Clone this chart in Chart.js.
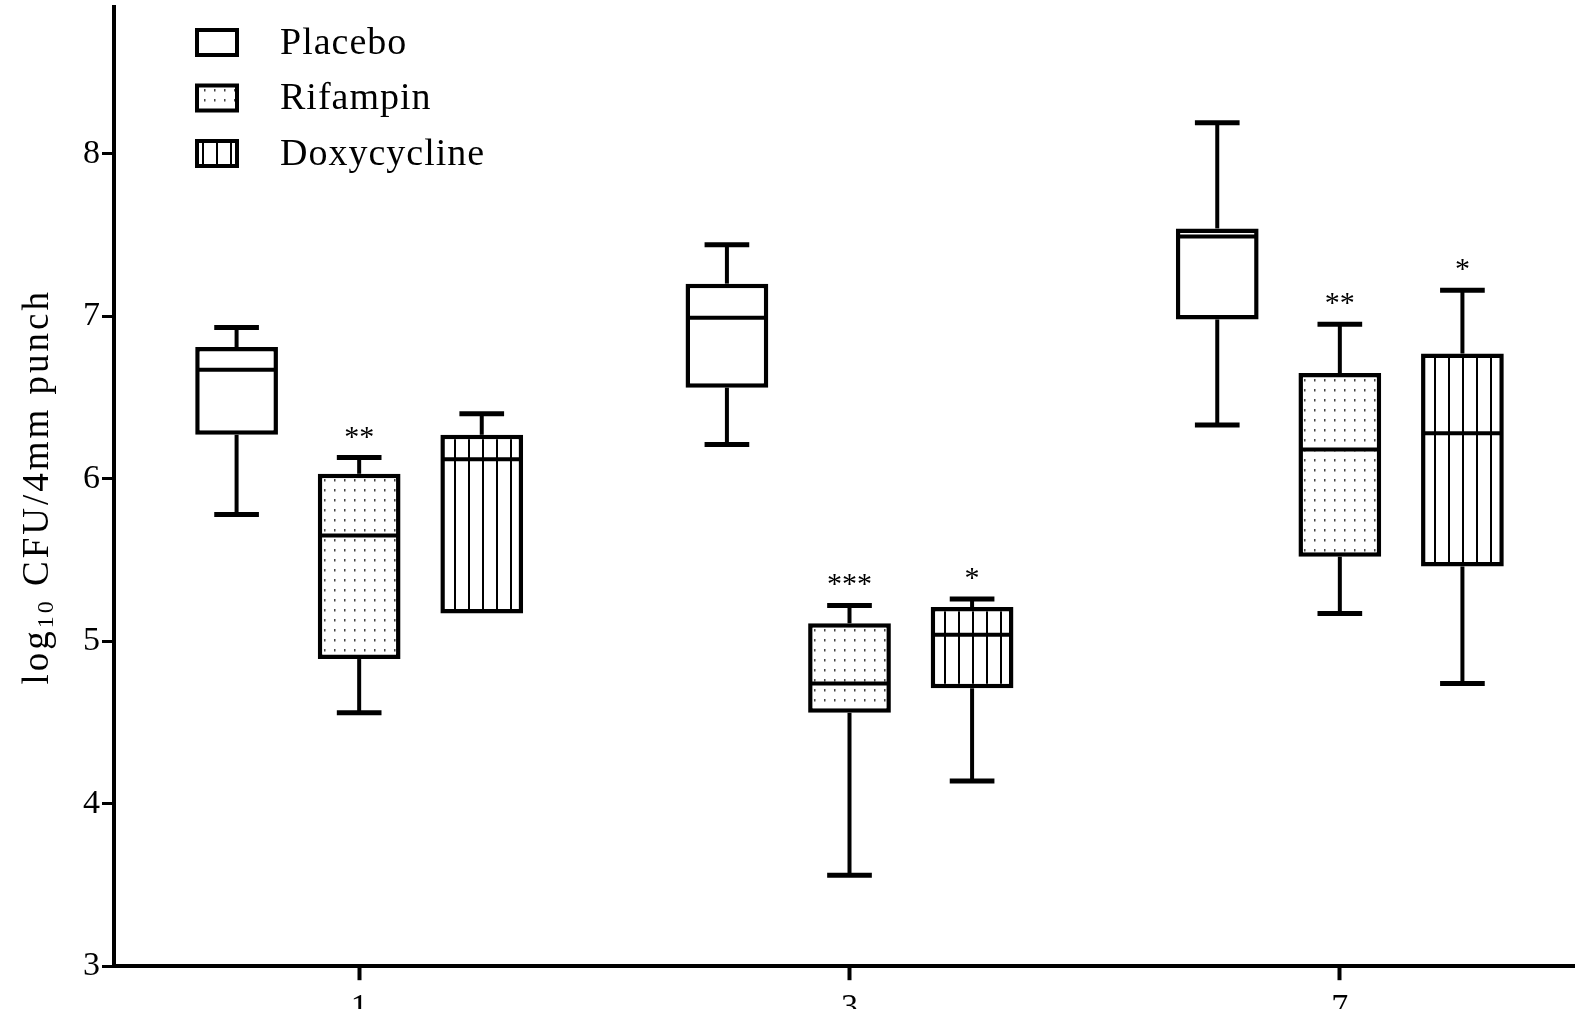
<!DOCTYPE html>
<html>
<head>
<meta charset="utf-8">
<script src="https://cdn.jsdelivr.net/npm/chart.js@4.4.0/dist/chart.umd.min.js"></script>
<style>
html, body { margin: 0; padding: 0; overflow: hidden; background: #fff; }
#wrap { position: absolute; left: 0; top: -15px; width: 1590px; height: 1050px; }
</style>
</head>
<body>
<div id="wrap"><canvas id="Chart"></canvas></div>
<script>
//days on the x axis
var days = ['1', '3', '7'];
var yTicks = [3, 4, 5, 6, 7, 8];
//five number summary for each treatment, one value per day
var placeboMin = [5.78, 6.21, 6.33];
var placeboQ1 = [6.27, 6.56, 6.98];
var placeboMed = [6.67, 6.99, 7.49];
var placeboQ3 = [6.81, 7.20, 7.54];
var placeboMax = [6.93, 7.44, 8.19];
var placeboStars = ['', '', ''];

var rifampinMin = [4.56, 3.56, 5.17];
var rifampinQ1 = [4.89, 4.56, 5.52];
var rifampinMed = [5.65, 4.74, 6.18];
var rifampinQ3 = [6.03, 5.11, 6.65];
var rifampinMax = [6.13, 5.22, 6.95];
var rifampinStars = ['**', '***', '**'];

var doxyMin = [5.17, 4.14, 4.74];
var doxyQ1 = [5.17, 4.71, 5.46];
var doxyMed = [6.12, 5.04, 6.28];
var doxyQ3 = [6.27, 5.21, 6.77];
var doxyMax = [6.40, 5.26, 7.16];
var doxyStars = ['', '*', '*'];

var serif = "'Liberation Serif', 'Times New Roman', serif";
var ctx = document.getElementById('Chart').getContext('2d');

//fill patterns: dots for rifampin and vertical stripes for doxycycline
function dotPattern() {
    var c = document.createElement('canvas');
    c.width = 10; c.height = 10;
    var g = c.getContext('2d');
    g.fillStyle = '#fff';
    g.fillRect(0, 0, 10, 10);
    g.fillStyle = '#444';
    g.fillRect(4, 4, 1.5, 2.5);
    return ctx.createPattern(c, 'repeat');
}
function stripePattern() {
    var c = document.createElement('canvas');
    c.width = 14; c.height = 4;
    var g = c.getContext('2d');
    g.fillStyle = '#fff';
    g.fillRect(0, 0, 14, 4);
    g.fillStyle = '#000';
    g.fillRect(6, 0, 2, 4);
    return ctx.createPattern(c, 'repeat');
}

function boxData(q1, q3) {
    return q1.map(function (v, i) { return [v, q3[i]]; });
}

var datasets = [{
    label: 'Placebo',
    data: boxData(placeboQ1, placeboQ3),
    stats: { min: placeboMin, med: placeboMed, max: placeboMax, stars: placeboStars },
    backgroundColor: '#fff'
}, {
    label: 'Rifampin',
    data: boxData(rifampinQ1, rifampinQ3),
    stats: { min: rifampinMin, med: rifampinMed, max: rifampinMax, stars: rifampinStars },
    backgroundColor: dotPattern()
}, {
    label: 'Doxycycline',
    data: boxData(doxyQ1, doxyQ3),
    stats: { min: doxyMin, med: doxyMed, max: doxyMax, stars: doxyStars },
    backgroundColor: stripePattern()
}];
datasets.forEach(function (d) {
    d.borderColor = '#000';
    d.borderWidth = 4.5;
    d.borderSkipped = false;
    d.categoryPercentage = 0.75;
    d.barPercentage = 0.675;
});

//draws medians, whiskers, caps and the significance stars on top of the floating bars
var boxPlugin = {
    id: 'boxes',
    afterDatasetsDraw: function (chart) {
        var c = chart.ctx;
        var y = chart.scales.y;
        c.save();
        c.strokeStyle = '#000';
        c.fillStyle = '#000';
        chart.data.datasets.forEach(function (ds, di) {
            var meta = chart.getDatasetMeta(di);
            meta.data.forEach(function (bar, i) {
                var half = bar.width / 2;
                var cap = bar.width * 0.27;
                var top = y.getPixelForValue(ds.data[i][1]);
                var bottom = y.getPixelForValue(ds.data[i][0]);
                var pMax = y.getPixelForValue(ds.stats.max[i]);
                var pMin = y.getPixelForValue(ds.stats.min[i]);
                var pMed = y.getPixelForValue(ds.stats.med[i]);
                c.lineWidth = 4;
                c.beginPath();
                c.moveTo(bar.x - half + 2, pMed);
                c.lineTo(bar.x + half - 2, pMed);
                c.stroke();
                if (pMax < top - 1) {
                    c.beginPath();
                    c.moveTo(bar.x, top);
                    c.lineTo(bar.x, pMax);
                    c.stroke();
                    c.lineWidth = 5;
                    c.beginPath();
                    c.moveTo(bar.x - cap, pMax);
                    c.lineTo(bar.x + cap, pMax);
                    c.stroke();
                }
                c.lineWidth = 4;
                if (pMin > bottom + 1) {
                    c.beginPath();
                    c.moveTo(bar.x, bottom);
                    c.lineTo(bar.x, pMin);
                    c.stroke();
                    c.lineWidth = 5;
                    c.beginPath();
                    c.moveTo(bar.x - cap, pMin);
                    c.lineTo(bar.x + cap, pMin);
                    c.stroke();
                }
                if (ds.stats.stars[i]) {
                    c.font = '30px ' + serif;
                    c.textAlign = 'center';
                    c.textBaseline = 'alphabetic';
                    c.fillText(ds.stats.stars[i], bar.x, pMax - 12);
                }
            });
        });
        c.restore();
    },
    afterDraw: function (chart) {
        var c = chart.ctx;
        var area = chart.chartArea;
        c.save();
        //legend in the top left corner of the plot
        chart.data.datasets.forEach(function (ds, di) {
            var ly = 57 + di * 55.5;
            c.fillStyle = ds.backgroundColor;
            c.fillRect(197, ly - 12, 40, 25);
            c.strokeStyle = '#000';
            c.lineWidth = 4;
            c.strokeRect(197, ly - 12, 40, 25);
            c.fillStyle = '#000';
            c.font = '38px ' + serif;
            c.letterSpacing = '1px';
            c.textAlign = 'left';
            c.textBaseline = 'middle';
            c.fillText(ds.label, 280, ly + 2);
        });
        //y axis title with a subscript 10
        var cy = (area.top + area.bottom) / 2;
        c.translate(38, cy);
        c.rotate(-Math.PI / 2);
        c.letterSpacing = '3px';
        c.textBaseline = 'middle';
        c.textAlign = 'left';
        var big = '37px ' + serif, small = '24px ' + serif;
        c.font = big;
        var w1 = c.measureText('log').width;
        var w3 = c.measureText(' CFU/4mm punch').width;
        c.font = small;
        var w2 = c.measureText('10').width;
        var x0 = -(w1 + w2 + w3) / 2;
        c.font = big;
        c.fillText('log', x0, 0);
        c.font = small;
        c.fillText('10', x0 + w1, 9);
        c.font = big;
        c.fillText(' CFU/4mm punch', x0 + w1 + w2, 0);
        c.restore();
    }
};

var chart = new Chart(ctx, {
    type: 'bar',
    data: { labels: days, datasets: datasets },
    options: {
        responsive: true,
        maintainAspectRatio: false,
        animation: false,
        layout: { padding: { left: 81, right: 5, top: 0, bottom: 0 } },
        plugins: { legend: { display: false }, tooltip: { enabled: false } },
        scales: {
            x: {
                grid: { drawOnChartArea: false, offset: false, tickLength: 14, tickWidth: 4, tickColor: '#000' },
                border: { color: '#000', width: 4 },
                ticks: { color: '#000', padding: 7, font: { family: serif, size: 34 } }
            },
            y: {
                min: 3,
                max: 8.9,
                afterBuildTicks: function (scale) {
                    scale.ticks = yTicks.map(function (v) { return { value: v }; });
                },
                grid: { drawOnChartArea: false, tickLength: 12, tickWidth: 3, tickColor: '#000' },
                border: { color: '#000', width: 4 },
                ticks: { color: '#000', padding: 2, font: { family: serif, size: 34 } }
            }
        }
    },
    plugins: [boxPlugin]
});
</script>
</body>
</html>
